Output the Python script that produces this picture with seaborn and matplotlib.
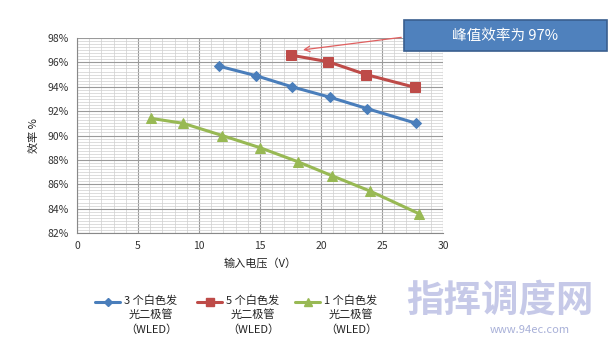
import matplotlib
matplotlib.use("Agg")
import matplotlib.pyplot as plt
import seaborn as sns
import pandas as pd
import numpy as np
from matplotlib.ticker import MultipleLocator, FuncFormatter
from matplotlib.lines import Line2D
from matplotlib.patches import Rectangle

sns.set_style("white")
plt.rcParams['font.family'] = ['Noto Sans CJK SC', 'DejaVu Sans']

# Data
blue_x = [11.6, 14.7, 17.6, 20.7, 23.8, 27.8]
blue_y = [95.7, 94.9, 94.0, 93.15, 92.2, 91.0]
red_x = [17.5, 20.6, 23.7, 27.7]
red_y = [96.6, 96.05, 95.0, 93.95]
green_x = [6.1, 8.7, 11.9, 15.0, 18.1, 20.9, 24.0, 28.0]
green_y = [91.4, 91.0, 90.0, 89.0, 87.85, 86.7, 85.45, 83.6]
labels = ["3 个白色发\n光二极管\n（WLED）", "5 个白色发\n光二极管\n（WLED）", "1 个白色发\n光二极管\n（WLED）"]
colors = ["#4A7EBB", "#BE4B48", "#98B954"]
markers = ["D", "s", "^"]
msizes = [5, 7, 7]

W, H = 611, 346
fig = plt.figure(figsize=(W/100, H/100), dpi=100)
ax = fig.add_axes([77/W, 1-233/H, (443-77)/W, (233-38)/H])

series = [(blue_x, blue_y), (red_x, red_y), (green_x, green_y)]
for (xs, ys), lab, c, m, ms in zip(series, labels, colors, markers, msizes):
    df = pd.DataFrame({"x": xs, "y": ys})
    sns.lineplot(data=df, x="x", y="y", ax=ax, color=c, marker=m, markersize=ms,
                 markeredgecolor=c, linewidth=2.2, legend=False, zorder=3)

ax.set_xlim(0, 30)
ax.set_ylim(82, 98)
ax.xaxis.set_major_locator(MultipleLocator(5))
ax.xaxis.set_minor_locator(MultipleLocator(1))
ax.yaxis.set_major_locator(MultipleLocator(2))
ax.yaxis.set_minor_locator(MultipleLocator(0.25))
ax.yaxis.set_major_formatter(FuncFormatter(lambda v, p: f"{v:.0f}%"))
ax.grid(True, which='major', color='#9a9a9a', linewidth=0.8)
ax.grid(True, which='minor', color='#cfcfcf', linewidth=0.5)
ax.set_axisbelow(True)
for s in ['top', 'right']:
    ax.spines[s].set_visible(False)
for s in ['left', 'bottom']:
    ax.spines[s].set_color('#888888')
    ax.spines[s].set_linewidth(0.8)
ax.tick_params(axis='both', labelsize=7.5, colors='#333333', length=0, pad=6)
ax.set_xlabel("输入电压（V）", fontsize=8, color='#222222', labelpad=5)
ax.set_ylabel("效率 %", fontsize=8, color='#222222', labelpad=6)

# Manual legend (handle aligned with first label line)
leg_x = [95, 197, 295]
for lx, lab, c, m, ms in zip(leg_x, labels, colors, markers, msizes):
    yy = 1 - 302/H
    fig.add_artist(Line2D([lx/W, (lx+25)/W], [yy, yy], color=c, linewidth=2.2,
                          transform=fig.transFigure))
    fig.add_artist(Line2D([(lx+12.5)/W], [yy], color=c, marker=m, markersize=ms*0.8,
                          markeredgecolor=c, transform=fig.transFigure))
    fig.text((lx+56)/W, 1-295/H, lab, fontsize=8, color='#222222', ha='center', va='top',
             multialignment='center', linespacing=1.45)

# Annotation box with arrow
fig.add_artist(Rectangle((404/W, 1-51/H), 203/W, 31/H, transform=fig.transFigure,
                         facecolor='#4F81BD', edgecolor='#3A5F8F', linewidth=1.2, zorder=10))
fig.text(505/W, 1-36/H, "峰值效率为 97%", ha='center', va='center', fontsize=10.5,
         color='white', zorder=11)
ax.annotate("", xy=(18.3, 97.0), xycoords='data',
            xytext=(404/W, 1-37/H), textcoords='figure fraction',
            arrowprops=dict(arrowstyle='->', color='#E06060', linewidth=0.9),
            annotation_clip=False)

# watermark
fig.text(500/W, 1-300/H, "指挥调度网", fontsize=27, color='#BCC0E4', ha='center', va='center',
         fontweight='bold', alpha=0.85)
fig.text(530/W, 1-330/H, "www.94ec.com", fontsize=8, color='#A8B0D8', ha='center', va='center')

fig.savefig("out.png", dpi=100, facecolor='white')
